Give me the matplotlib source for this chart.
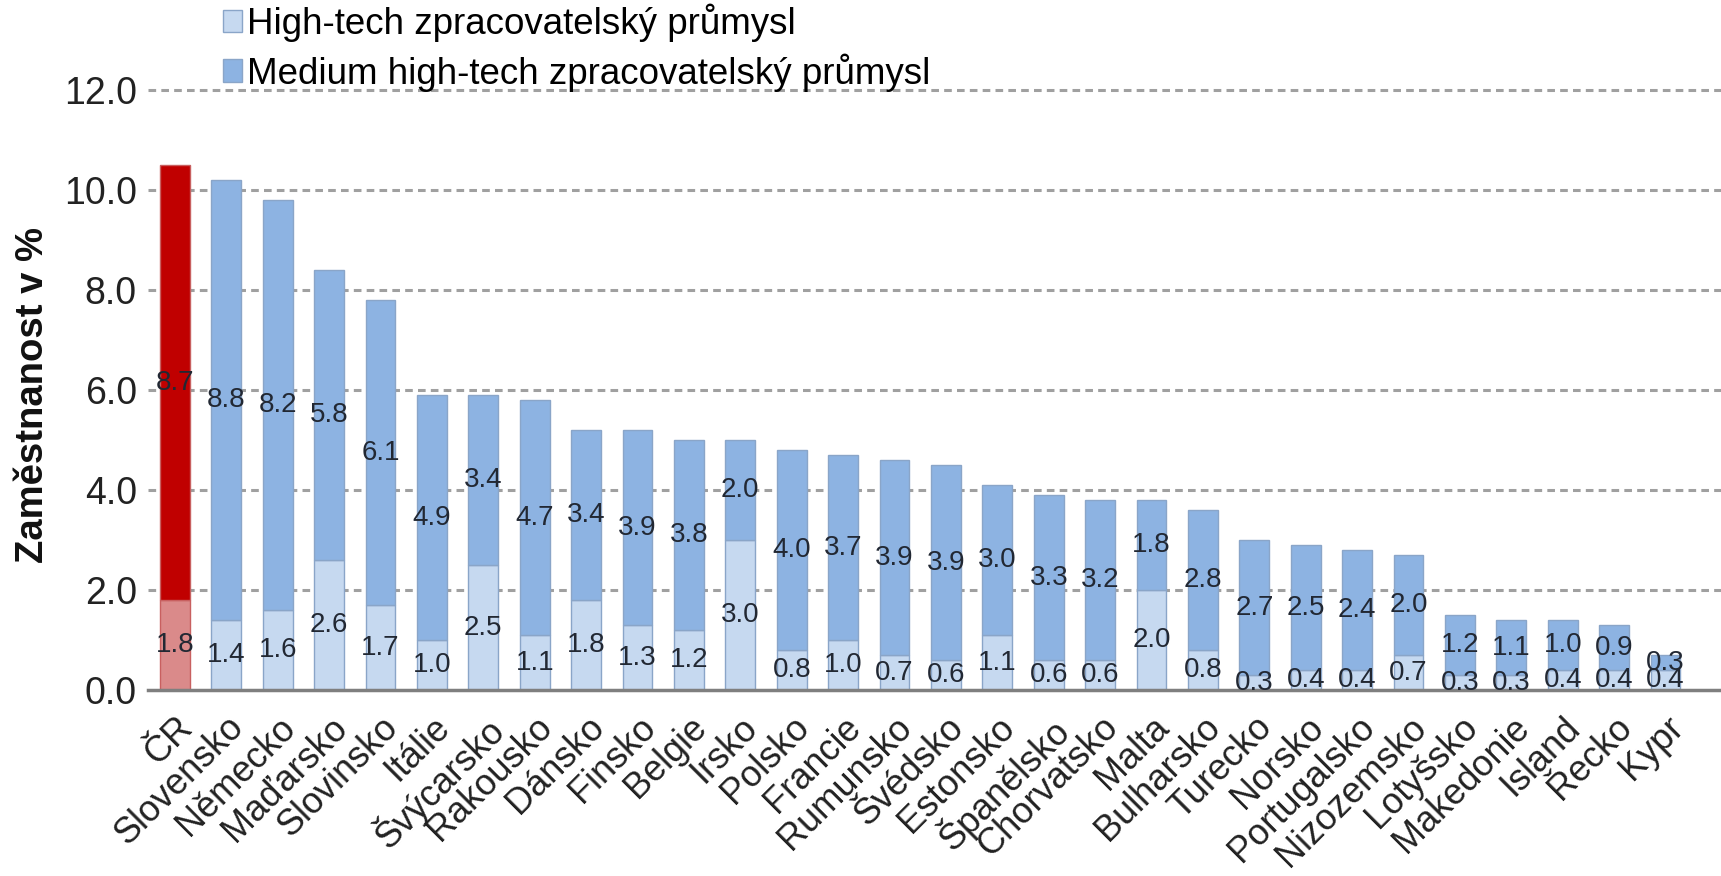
import matplotlib
matplotlib.use("Agg")
import matplotlib.pyplot as plt
import numpy as np
from matplotlib.patches import Patch

# data
countries = ["ČR", "Slovensko", "Německo", "Maďarsko", "Slovinsko", "Itálie", "Švýcarsko",
             "Rakousko", "Dánsko", "Finsko", "Belgie", "Irsko", "Polsko", "Francie",
             "Rumunsko", "Švédsko", "Estonsko", "Španělsko", "Chorvatsko", "Malta",
             "Bulharsko", "Turecko", "Norsko", "Portugalsko", "Nizozemsko", "Lotyšsko",
             "Makedonie", "Island", "Řecko", "Kypr"]
high_tech = [1.8, 1.4, 1.6, 2.6, 1.7, 1.0, 2.5, 1.1, 1.8, 1.3, 1.2, 3.0, 0.8, 1.0, 0.7,
             0.6, 1.1, 0.6, 0.6, 2.0, 0.8, 0.3, 0.4, 0.4, 0.7, 0.3, 0.3, 0.4, 0.4, 0.4]
medium_high = [8.7, 8.8, 8.2, 5.8, 6.1, 4.9, 3.4, 4.7, 3.4, 3.9, 3.8, 2.0, 4.0, 3.7, 3.9,
               3.9, 3.0, 3.3, 3.2, 1.8, 2.8, 2.7, 2.5, 2.4, 2.0, 1.2, 1.1, 1.0, 0.9, 0.3]
legend_labels = ["High-tech zpracovatelský průmysl", "Medium high-tech zpracovatelský průmysl"]
y_ticks = [0, 2, 4, 6, 8, 10, 12]

plt.rcParams["font.family"] = ["Liberation Sans", "DejaVu Sans"]

c_high = "#C6D9F0"
c_med = "#8DB3E2"
c_edge = "#8AA5C8"

fig = plt.figure(figsize=(17.21, 8.76), dpi=100)
ax = fig.add_axes([0.086, 0.212, 0.914, 0.685])

x = np.arange(len(countries))
hc = [c_high] * len(x)
mc = [c_med] * len(x)
hc[0] = "#DA8A8A"
mc[0] = "#C00000"
ec = [c_edge] * len(x)
ec[0] = "#C86060"

w = 0.58
ax.bar(x, high_tech, width=w, color=hc, edgecolor=ec, linewidth=1, zorder=3)
ax.bar(x, medium_high, width=w, bottom=high_tech, color=mc, edgecolor=ec,
       linewidth=1, zorder=3)

# value labels in the middle of each segment
lab_font = dict(fontsize=20, color="#222833", ha="center", va="center", zorder=5)
for i in x:
    ax.text(i, high_tech[i] / 2, f"{high_tech[i]:.1f}", **lab_font)
    ax.text(i, high_tech[i] + medium_high[i] / 2, f"{medium_high[i]:.1f}", **lab_font)

ax.set_xlim(-0.525, 30.08)
ax.set_ylim(0, 12)
ax.set_yticks(y_ticks)
ax.set_yticklabels([f"{v:.1f}" for v in y_ticks], fontsize=27, color="#222222")
ax.tick_params(axis="y", length=0, pad=8)
ax.tick_params(axis="x", length=0, pad=14)
ax.set_xticks(x)
ax.set_xticklabels(countries, rotation=45, ha="right", rotation_mode="anchor",
                   fontsize=26, color="#222222")

for v in y_ticks[1:]:
    ax.axhline(v, color="#A0A0A0", linewidth=2.2, linestyle=(0, (2.5, 1.7)), zorder=1,
               clip_on=False)

for s in ["top", "right", "left"]:
    ax.spines[s].set_visible(False)
ax.spines["bottom"].set_color("#7F7F7F")
ax.spines["bottom"].set_linewidth(2.5)
ax.spines["bottom"].set_zorder(4)

fig.text(33 / 1721, 1 - 395 / 876, "Zaměstnanost v %", rotation=90, ha="center",
         va="center", fontsize=27.5, fontweight="bold", color="#111111")

handles = [Patch(facecolor=c_high, edgecolor=c_edge), Patch(facecolor=c_med, edgecolor=c_edge)]
fig.legend(handles, legend_labels, loc="upper left", bbox_to_anchor=(0.1275, 1.0),
           frameon=False, fontsize=26.5, handlelength=0.5, handleheight=0.55,
           handletextpad=0.15, labelspacing=0.3, borderaxespad=0, borderpad=0.1)

fig.savefig("out.png", dpi=100)
